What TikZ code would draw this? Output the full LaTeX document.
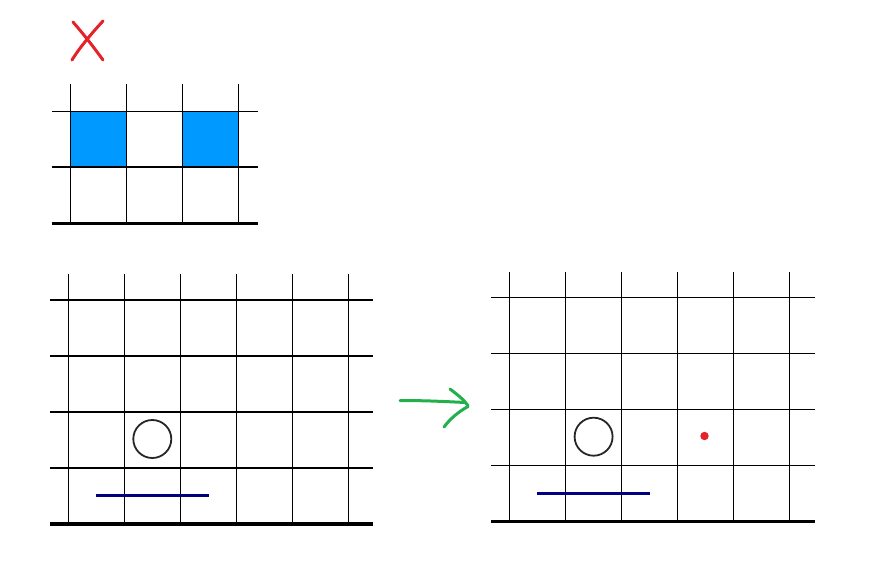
\documentclass[tikz,border=0pt]{standalone}
\definecolor{cellblue}{HTML}{0099FF}
\definecolor{navyline}{HTML}{000080}
\definecolor{markred}{HTML}{E3222A}
\definecolor{arrowgreen}{HTML}{22B04B}
\tikzset{
  gridline/.style={black, line width=1.6pt},
  baseline/.style={black, line width=3.2pt},
  ballstyle/.style={black!85, line width=1.8pt},
  rodline/.style={navyline, line width=3pt},
  handred/.style={markred, line width=3pt, line cap=round, line join=round},
  handgreen/.style={arrowgreen, line width=3pt, line cap=round, line join=round},
}
\begin{document}
\begin{tikzpicture}[x=1pt,y=-1pt]
\useasboundingbox (0,0) rectangle (871,570);
\fill[white] (0,0) rectangle (871,570);

% red X
\draw[handred] (73,22) .. controls (86,37) and (95,49) .. (103,60);
\draw[handred] (103,21) .. controls (92,33) and (80,47) .. (72,60);

% top grid
\fill[cellblue] (70.3,111.3) rectangle (126.3,167);
\fill[cellblue] (182.3,111.3) rectangle (238.3,167);
\foreach \x in {70.3,126.3,182.3,238.3} \draw[gridline] (\x,84) -- (\x,223.3);
\foreach \y in {111.3,167} \draw[gridline] (52,\y) -- (258,\y);
\draw[baseline] (52,223.3) -- (258,223.3);

% bottom-left grid
\foreach \x in {68.3,124.3,180.3,236.3,292.3,348.3} \draw[gridline] (\x,274) -- (\x,524);
\foreach \y in {299.7,355.7,411.7,467.7} \draw[gridline] (50,\y) -- (373.3,\y);
\draw[baseline] (50,524) -- (373.3,524);
\draw[ballstyle] (152.3,439) circle (19);
\draw[rodline] (96,495.3) -- (208.5,495.3);

% green arrow
\draw[handgreen] (400,400.5) .. controls (425,400.5) and (445,401.5) .. (465,402.5);
\draw[handgreen] (450,389) .. controls (458,395) and (464,400) .. (468,405.5);
\draw[handgreen] (468,406.5) .. controls (458,412) and (450,419) .. (444,427);

% bottom-right grid
\begin{scope}[shift={(441.3,-2.3)}]
\foreach \x in {68.3,124.3,180.3,236.3,292.3,348.3} \draw[gridline] (\x,274) -- (\x,524);
\foreach \y in {299.7,355.7,411.7,467.7} \draw[gridline] (50,\y) -- (373.3,\y);
\draw[baseline] (50,524) -- (373.3,524);
\draw[ballstyle] (152.3,439) circle (19);
\draw[rodline] (96,495.3) -- (208.5,495.3);
\end{scope}
\fill[markred] (704.5,436) circle (4.2);
\end{tikzpicture}
\end{document}
